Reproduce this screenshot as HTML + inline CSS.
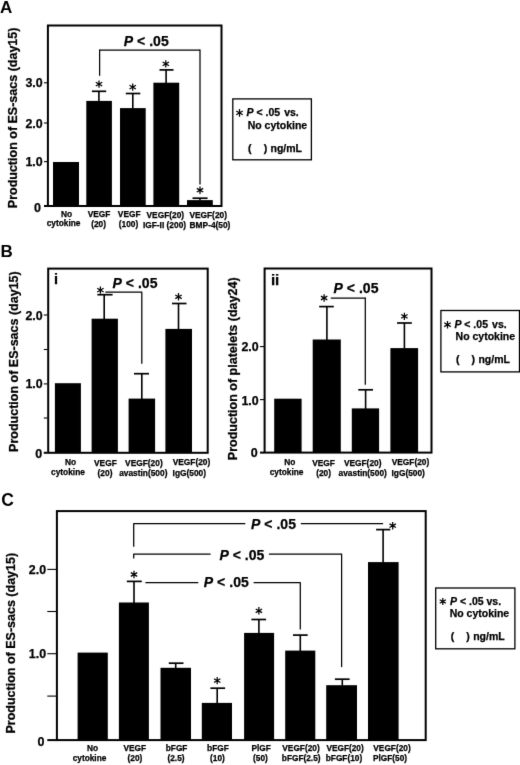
<!DOCTYPE html>
<html><head><meta charset="utf-8"><title>Figure</title>
<style>
html,body{margin:0;padding:0;background:#fff;}
body{width:520px;height:765px;overflow:hidden;font-family:"Liberation Sans",sans-serif;}
svg{display:block;filter:grayscale(1);}
svg text{font-family:"Liberation Sans",sans-serif;fill:#000;stroke:#000;stroke-width:0.25px;}
</style></head><body>
<svg width="520" height="765" viewBox="0 0 520 765">
<defs><filter id="soft" color-interpolation-filters="sRGB" x="0" y="0" width="520" height="765" filterUnits="userSpaceOnUse"><feConvolveMatrix order="3" kernelMatrix="0.00694 0.06944 0.00694 0.06944 0.69444 0.06944 0.00694 0.06944 0.00694" edgeMode="duplicate" preserveAlpha="true"/></filter></defs>
<rect x="0" y="0" width="520" height="765" fill="#fff"/>
<g filter="url(#soft)">
<rect x="0" y="0" width="520" height="765" fill="#fff"/>
<text x="0.0" y="12.5" font-size="17" text-anchor="start" font-weight="bold" style="stroke-width:0">A</text>
<rect x="47.9" y="25.5" width="173.6" height="180.5" fill="none" stroke="#000" stroke-width="2.0"/>
<text transform="translate(16.6,117.9) rotate(-90)" font-size="12.5" text-anchor="middle" font-weight="bold">Production of ES-sacs (day15)</text>
<text x="42.7" y="87.3" font-size="12.4" text-anchor="end" font-weight="bold" >3.0</text>
<line x1="44" y1="82.8" x2="47.5" y2="82.8" stroke="#000" stroke-width="1.1"/>
<text x="42.7" y="127.5" font-size="12.4" text-anchor="end" font-weight="bold" >2.0</text>
<line x1="44" y1="123" x2="47.5" y2="123" stroke="#000" stroke-width="1.1"/>
<text x="42.7" y="166.1" font-size="12.4" text-anchor="end" font-weight="bold" >1.0</text>
<line x1="44" y1="161.6" x2="47.5" y2="161.6" stroke="#000" stroke-width="1.1"/>
<line x1="44" y1="206" x2="47.5" y2="206" stroke="#000" stroke-width="2.0"/>
<text x="41.0" y="211.8" font-size="12.5" text-anchor="end" font-weight="bold" >0</text>
<rect x="53" y="162" width="26" height="44" fill="#000"/>
<rect x="86.3" y="100.9" width="25.6" height="105.1" fill="#000"/>
<rect x="120" y="108.1" width="25.7" height="97.9" fill="#000"/>
<rect x="153.4" y="82.7" width="25.8" height="123.3" fill="#000"/>
<rect x="187" y="200.1" width="25.8" height="5.9" fill="#000"/>
<line x1="98.9" y1="91.3" x2="98.9" y2="101.4" stroke="#000" stroke-width="1.6"/>
<line x1="91.9" y1="91.3" x2="106.2" y2="91.3" stroke="#000" stroke-width="1.7000000000000002"/>
<path d="M99.00 80.40L99.00 87.80M95.80 82.25L102.20 85.95M102.20 82.25L95.80 85.95" stroke="#000" stroke-width="1.25" fill="none"/>
<line x1="132.8" y1="93.5" x2="132.8" y2="108.6" stroke="#000" stroke-width="1.6"/>
<line x1="125.8" y1="93.5" x2="140.3" y2="93.5" stroke="#000" stroke-width="1.7000000000000002"/>
<path d="M132.70 83.40L132.70 90.80M129.50 85.25L135.90 88.95M135.90 85.25L129.50 88.95" stroke="#000" stroke-width="1.25" fill="none"/>
<line x1="166.1" y1="69.9" x2="166.1" y2="83.2" stroke="#000" stroke-width="1.6"/>
<line x1="159.5" y1="69.9" x2="173.5" y2="69.9" stroke="#000" stroke-width="1.7000000000000002"/>
<path d="M165.80 60.20L165.80 67.60M162.60 62.05L169.00 65.75M169.00 62.05L162.60 65.75" stroke="#000" stroke-width="1.25" fill="none"/>
<line x1="200" y1="198.2" x2="200" y2="200.6" stroke="#000" stroke-width="1.6"/>
<line x1="192.5" y1="198.2" x2="207.6" y2="198.2" stroke="#000" stroke-width="1.7000000000000002"/>
<path d="M200.00 186.50L200.00 193.90M196.80 188.35L203.20 192.05M203.20 188.35L196.80 192.05" stroke="#000" stroke-width="1.25" fill="none"/>
<line x1="99.6" y1="50.0" x2="200" y2="50.0" stroke="#000" stroke-width="1.25"/>
<line x1="99.6" y1="49.5" x2="99.6" y2="75.8" stroke="#000" stroke-width="1.25"/>
<line x1="200" y1="49.5" x2="200" y2="184.5" stroke="#000" stroke-width="1.25"/>
<text x="123.7" y="46.3" font-size="14" text-anchor="start" font-weight="bold" textLength="45.0" lengthAdjust="spacing"><tspan font-style="italic">P</tspan> &lt; .05</text>
<text x="66.6" y="216.5" font-size="8.35" text-anchor="middle" font-weight="bold" >No</text>
<text x="63.6" y="226.3" font-size="8.35" text-anchor="middle" font-weight="bold" >cytokine</text>
<text x="99" y="217.2" font-size="8.35" text-anchor="middle" font-weight="bold" >VEGF</text>
<text x="98.6" y="226.8" font-size="8.35" text-anchor="middle" font-weight="bold" >(20)</text>
<text x="129.2" y="217.2" font-size="8.35" text-anchor="middle" font-weight="bold" >VEGF</text>
<text x="128.5" y="226.8" font-size="8.35" text-anchor="middle" font-weight="bold" >(100)</text>
<text x="165.3" y="217.8" font-size="8.35" text-anchor="middle" font-weight="bold" >VEGF(20)</text>
<text x="164.5" y="227.6" font-size="8.35" text-anchor="middle" font-weight="bold" >IGF-II (200)</text>
<text x="208.2" y="218.2" font-size="8.35" text-anchor="middle" font-weight="bold" >VEGF(20)</text>
<text x="210" y="228" font-size="8.35" text-anchor="middle" font-weight="bold" >BMP-4(50)</text>
<rect x="232.8" y="98.9" width="78.6" height="60.9" fill="none" stroke="#000" stroke-width="1.3"/>
<path d="M239.50 109.10L239.50 116.70M236.21 111.00L242.79 114.80M242.79 111.00L236.21 114.80" stroke="#000" stroke-width="1.25" fill="none"/>
<text x="246.5" y="115.9" font-size="10.5" text-anchor="start" font-weight="bold" ><tspan font-style="italic">P</tspan> &lt; .05 <tspan dx="1.2">vs.</tspan></text>
<text x="247.7" y="128.7" font-size="10.5" text-anchor="start" font-weight="bold" >No cytokine</text>
<text x="248.0" y="151.7" font-size="10.5" text-anchor="start" font-weight="bold" >(&#160;&#160;&#160;&#160;<tspan dx="0.5">)</tspan><tspan dx="0.4"> ng/mL</tspan></text>
<text x="0.6" y="257.3" font-size="17" text-anchor="start" font-weight="bold" style="stroke-width:0">B</text>
<rect x="48.2" y="268.6" width="159.5" height="184.2" fill="none" stroke="#000" stroke-width="2.0"/>
<text x="53.9" y="283.6" font-size="14.5" text-anchor="start" font-weight="bold" >i</text>
<text transform="translate(17.6,361.6) rotate(-90)" font-size="12.5" text-anchor="middle" font-weight="bold">Production of ES-sacs (day15)</text>
<text x="42.7" y="319.5" font-size="12.4" text-anchor="end" font-weight="bold" >2.0</text>
<line x1="43.8" y1="315" x2="47.5" y2="315" stroke="#000" stroke-width="1.1"/>
<text x="42.7" y="388.4" font-size="12.4" text-anchor="end" font-weight="bold" >1.0</text>
<line x1="43.8" y1="383.9" x2="47.5" y2="383.9" stroke="#000" stroke-width="1.1"/>
<line x1="43.8" y1="349.5" x2="47.5" y2="349.5" stroke="#000" stroke-width="1.1"/>
<line x1="43.8" y1="418" x2="47.5" y2="418" stroke="#000" stroke-width="1.1"/>
<line x1="43.8" y1="452.8" x2="47.5" y2="452.8" stroke="#000" stroke-width="2.0"/>
<text x="42.3" y="458.3" font-size="12.5" text-anchor="end" font-weight="bold" >0</text>
<rect x="54.9" y="383.2" width="26.0" height="69.6" fill="#000"/>
<rect x="91.6" y="318.7" width="26.3" height="134.1" fill="#000"/>
<rect x="128.6" y="398.6" width="26.5" height="54.2" fill="#000"/>
<rect x="165.4" y="328.9" width="26.6" height="123.9" fill="#000"/>
<line x1="104.2" y1="294.7" x2="104.2" y2="319.2" stroke="#000" stroke-width="1.6"/>
<line x1="97.4" y1="294.7" x2="112.6" y2="294.7" stroke="#000" stroke-width="1.7000000000000002"/>
<path d="M100.40 286.40L100.40 293.80M97.20 288.25L103.60 291.95M103.60 288.25L97.20 291.95" stroke="#000" stroke-width="1.25" fill="none"/>
<line x1="141.8" y1="373.7" x2="141.8" y2="399.1" stroke="#000" stroke-width="1.6"/>
<line x1="134" y1="373.7" x2="149" y2="373.7" stroke="#000" stroke-width="1.7000000000000002"/>
<line x1="178.5" y1="303.5" x2="178.5" y2="329.4" stroke="#000" stroke-width="1.6"/>
<line x1="172" y1="303.5" x2="186.5" y2="303.5" stroke="#000" stroke-width="1.7000000000000002"/>
<path d="M178.50 293.10L178.50 300.50M175.30 294.95L181.70 298.65M181.70 294.95L175.30 298.65" stroke="#000" stroke-width="1.25" fill="none"/>
<line x1="105.4" y1="292.2" x2="141.8" y2="292.2" stroke="#000" stroke-width="1.25"/>
<line x1="141.8" y1="291.7" x2="141.8" y2="363.7" stroke="#000" stroke-width="1.25"/>
<text x="112.5" y="287.6" font-size="14" text-anchor="start" font-weight="bold" textLength="45.0" lengthAdjust="spacing"><tspan font-style="italic">P</tspan> &lt; .05</text>
<text x="70.5" y="465" font-size="8.35" text-anchor="middle" font-weight="bold" >No</text>
<text x="68" y="474.9" font-size="8.35" text-anchor="middle" font-weight="bold" >cytokine</text>
<text x="105.4" y="465.8" font-size="8.35" text-anchor="middle" font-weight="bold" >VEGF</text>
<text x="105" y="475.5" font-size="8.35" text-anchor="middle" font-weight="bold" >(20)</text>
<text x="143.9" y="465.9" font-size="8.35" text-anchor="middle" font-weight="bold" >VEGF(20)</text>
<text x="143.3" y="475.5" font-size="8.35" text-anchor="middle" font-weight="bold" >avastin(500)</text>
<text x="191.5" y="465" font-size="8.35" text-anchor="middle" font-weight="bold" >VEGF(20)</text>
<text x="189.3" y="475.5" font-size="8.35" text-anchor="middle" font-weight="bold" >IgG(500)</text>
<rect x="264.6" y="268.5" width="166.9" height="184.1" fill="none" stroke="#000" stroke-width="2.0"/>
<text x="270.9" y="285.4" font-size="15" text-anchor="start" font-weight="bold" >ii</text>
<text transform="translate(236.5,368.8) rotate(-90)" font-size="12.5" text-anchor="middle" font-weight="bold">Production of platelets (day24)</text>
<text x="258.7" y="351.2" font-size="12.4" text-anchor="end" font-weight="bold" >2.0</text>
<line x1="260" y1="346.6" x2="264" y2="346.6" stroke="#000" stroke-width="1.1"/>
<text x="258.7" y="405.1" font-size="12.4" text-anchor="end" font-weight="bold" >1.0</text>
<line x1="260" y1="399.6" x2="264" y2="399.6" stroke="#000" stroke-width="1.1"/>
<line x1="260" y1="452.6" x2="264" y2="452.6" stroke="#000" stroke-width="2.0"/>
<text x="257.8" y="457.3" font-size="12.5" text-anchor="end" font-weight="bold" >0</text>
<rect x="274.2" y="398.7" width="27.4" height="53.9" fill="#000"/>
<rect x="312.7" y="339.5" width="28.1" height="113.1" fill="#000"/>
<rect x="351.8" y="408.4" width="27.3" height="44.2" fill="#000"/>
<rect x="390.4" y="348.1" width="27.7" height="104.5" fill="#000"/>
<line x1="326.9" y1="306.6" x2="326.9" y2="340.0" stroke="#000" stroke-width="1.6"/>
<line x1="319.2" y1="306.6" x2="333.8" y2="306.6" stroke="#000" stroke-width="1.7000000000000002"/>
<path d="M324.10 294.30L324.10 301.70M320.90 296.15L327.30 299.85M327.30 296.15L320.90 299.85" stroke="#000" stroke-width="1.25" fill="none"/>
<line x1="365.6" y1="389.8" x2="365.6" y2="408.9" stroke="#000" stroke-width="1.6"/>
<line x1="358.3" y1="389.8" x2="373" y2="389.8" stroke="#000" stroke-width="1.7000000000000002"/>
<line x1="404.4" y1="323" x2="404.4" y2="348.6" stroke="#000" stroke-width="1.6"/>
<line x1="397.1" y1="323" x2="411.8" y2="323" stroke="#000" stroke-width="1.7000000000000002"/>
<path d="M404.40 312.70L404.40 320.10M401.20 314.55L407.60 318.25M407.60 314.55L401.20 318.25" stroke="#000" stroke-width="1.25" fill="none"/>
<line x1="330.8" y1="298" x2="365.3" y2="298" stroke="#000" stroke-width="1.25"/>
<line x1="365.3" y1="297.5" x2="365.3" y2="384.7" stroke="#000" stroke-width="1.25"/>
<text x="333.5" y="293.1" font-size="14" text-anchor="start" font-weight="bold" textLength="45.0" lengthAdjust="spacing"><tspan font-style="italic">P</tspan> &lt; .05</text>
<text x="289.8" y="464.8" font-size="8.35" text-anchor="middle" font-weight="bold" >No</text>
<text x="286.6" y="474.8" font-size="8.35" text-anchor="middle" font-weight="bold" >cytokine</text>
<text x="323.6" y="466" font-size="8.35" text-anchor="middle" font-weight="bold" >VEGF</text>
<text x="323.6" y="475.5" font-size="8.35" text-anchor="middle" font-weight="bold" >(20)</text>
<text x="362.7" y="465.8" font-size="8.35" text-anchor="middle" font-weight="bold" >VEGF(20)</text>
<text x="362.7" y="475.5" font-size="8.35" text-anchor="middle" font-weight="bold" >avastin(500)</text>
<text x="410.5" y="464.8" font-size="8.35" text-anchor="middle" font-weight="bold" >VEGF(20)</text>
<text x="408.2" y="475.8" font-size="8.35" text-anchor="middle" font-weight="bold" >IgG(500)</text>
<rect x="440.9" y="310.5" width="78.6" height="61.4" fill="none" stroke="#000" stroke-width="1.3"/>
<path d="M447.50 320.90L447.50 328.50M444.21 322.80L450.79 326.60M450.79 322.80L444.21 326.60" stroke="#000" stroke-width="1.25" fill="none"/>
<text x="454.4" y="327.6" font-size="10.5" text-anchor="start" font-weight="bold" ><tspan font-style="italic">P</tspan> &lt; .05 <tspan dx="1.2">vs.</tspan></text>
<text x="455.59999999999997" y="340.4" font-size="10.5" text-anchor="start" font-weight="bold" >No cytokine</text>
<text x="455.9" y="363" font-size="10.5" text-anchor="start" font-weight="bold" >(&#160;&#160;&#160;&#160;<tspan dx="0.5">)</tspan><tspan dx="0.4"> ng/mL</tspan></text>
<text x="1.2" y="506.3" font-size="17.5" text-anchor="start" font-weight="bold" style="stroke-width:0">C</text>
<rect x="56.9" y="511.1" width="368.8" height="229.0" fill="none" stroke="#000" stroke-width="2.0"/>
<text transform="translate(15.1,643.2) rotate(-90)" font-size="12.5" text-anchor="middle" font-weight="bold">Production of ES-sacs (day15)</text>
<text x="46.1" y="573.9" font-size="12.4" text-anchor="end" font-weight="bold" >2.0</text>
<line x1="47.3" y1="569.4" x2="56.5" y2="569.4" stroke="#000" stroke-width="1.1"/>
<text x="46.1" y="658.2" font-size="12.4" text-anchor="end" font-weight="bold" >1.0</text>
<line x1="47.3" y1="653.7" x2="56.5" y2="653.7" stroke="#000" stroke-width="1.1"/>
<line x1="47.3" y1="611.5" x2="56.5" y2="611.5" stroke="#000" stroke-width="1.1"/>
<line x1="47.3" y1="696.1" x2="56.5" y2="696.1" stroke="#000" stroke-width="1.1"/>
<line x1="47.3" y1="740.1" x2="56.5" y2="740.1" stroke="#000" stroke-width="2.0"/>
<text x="44.5" y="745.5" font-size="12.5" text-anchor="end" font-weight="bold" >0</text>
<rect x="77.6" y="652.6" width="30.2" height="87.5" fill="#000"/>
<rect x="118.9" y="602.5" width="30.0" height="137.6" fill="#000"/>
<rect x="160.5" y="667.8" width="30.5" height="72.3" fill="#000"/>
<rect x="201.8" y="702.9" width="30.2" height="37.2" fill="#000"/>
<rect x="244.1" y="632.9" width="30.0" height="107.2" fill="#000"/>
<rect x="285.2" y="650.6" width="30.1" height="89.5" fill="#000"/>
<rect x="326.2" y="685.2" width="30.8" height="54.9" fill="#000"/>
<rect x="368" y="562.1" width="30.6" height="178.0" fill="#000"/>
<line x1="134" y1="581.4" x2="134" y2="603.0" stroke="#000" stroke-width="1.6"/>
<line x1="126.8" y1="581.4" x2="141.8" y2="581.4" stroke="#000" stroke-width="1.7000000000000002"/>
<path d="M134.00 570.80L134.00 578.20M130.80 572.65L137.20 576.35M137.20 572.65L130.80 576.35" stroke="#000" stroke-width="1.25" fill="none"/>
<line x1="175.7" y1="663.2" x2="175.7" y2="668.3" stroke="#000" stroke-width="1.6"/>
<line x1="168.8" y1="663.2" x2="183.5" y2="663.2" stroke="#000" stroke-width="1.7000000000000002"/>
<line x1="217.2" y1="688.2" x2="217.2" y2="703.4" stroke="#000" stroke-width="1.6"/>
<line x1="210.4" y1="688.2" x2="225.1" y2="688.2" stroke="#000" stroke-width="1.7000000000000002"/>
<path d="M217.20 676.90L217.20 684.30M214.00 678.75L220.40 682.45M220.40 678.75L214.00 682.45" stroke="#000" stroke-width="1.25" fill="none"/>
<line x1="258.9" y1="619.5" x2="258.9" y2="633.4" stroke="#000" stroke-width="1.6"/>
<line x1="251.4" y1="619.5" x2="266.1" y2="619.5" stroke="#000" stroke-width="1.7000000000000002"/>
<path d="M258.90 607.10L258.90 614.50M255.70 608.95L262.10 612.65M262.10 608.95L255.70 612.65" stroke="#000" stroke-width="1.25" fill="none"/>
<line x1="300.3" y1="635.1" x2="300.3" y2="651.1" stroke="#000" stroke-width="1.6"/>
<line x1="293" y1="635.1" x2="307.7" y2="635.1" stroke="#000" stroke-width="1.7000000000000002"/>
<line x1="342.3" y1="679.2" x2="342.3" y2="685.7" stroke="#000" stroke-width="1.6"/>
<line x1="334.9" y1="679.2" x2="349.6" y2="679.2" stroke="#000" stroke-width="1.7000000000000002"/>
<line x1="383.1" y1="529.6" x2="383.1" y2="562.6" stroke="#000" stroke-width="1.6"/>
<line x1="376.1" y1="529.6" x2="390.3" y2="529.6" stroke="#000" stroke-width="1.7000000000000002"/>
<path d="M392.70 522.00L392.70 529.40M389.50 523.85L395.90 527.55M395.90 523.85L389.50 527.55" stroke="#000" stroke-width="1.25" fill="none"/>
<line x1="133.7" y1="523.7" x2="245.3" y2="523.7" stroke="#000" stroke-width="1.25"/>
<line x1="133.7" y1="523.2" x2="133.7" y2="546.8" stroke="#000" stroke-width="1.25"/>
<line x1="300.8" y1="523.7" x2="383.1" y2="523.7" stroke="#000" stroke-width="1.25"/>
<text x="251" y="529.0" font-size="14" text-anchor="start" font-weight="bold" textLength="45.0" lengthAdjust="spacing"><tspan font-style="italic">P</tspan> &lt; .05</text>
<line x1="133.7" y1="554.2" x2="210.6" y2="554.2" stroke="#000" stroke-width="1.25"/>
<line x1="133.7" y1="553.7" x2="133.7" y2="558.4" stroke="#000" stroke-width="1.25"/>
<line x1="268.9" y1="554.2" x2="341.6" y2="554.2" stroke="#000" stroke-width="1.25"/>
<line x1="341.6" y1="553.7" x2="341.6" y2="667.1" stroke="#000" stroke-width="1.25"/>
<text x="219.4" y="559.5999999999999" font-size="14" text-anchor="start" font-weight="bold" textLength="45.0" lengthAdjust="spacing"><tspan font-style="italic">P</tspan> &lt; .05</text>
<line x1="145.4" y1="582.7" x2="198.3" y2="582.7" stroke="#000" stroke-width="1.25"/>
<line x1="253.6" y1="582.7" x2="300.3" y2="582.7" stroke="#000" stroke-width="1.25"/>
<line x1="300.3" y1="582.2" x2="300.3" y2="629.4" stroke="#000" stroke-width="1.25"/>
<text x="203.8" y="587.3" font-size="14" text-anchor="start" font-weight="bold" textLength="45.0" lengthAdjust="spacing"><tspan font-style="italic">P</tspan> &lt; .05</text>
<text x="92.5" y="751.2" font-size="8.3" text-anchor="middle" font-weight="bold" >No</text>
<text x="89.5" y="760.8" font-size="8.3" text-anchor="middle" font-weight="bold" >cytokine</text>
<text x="134.8" y="751.2" font-size="8.3" text-anchor="middle" font-weight="bold" >VEGF</text>
<text x="135" y="760.8" font-size="8.3" text-anchor="middle" font-weight="bold" >(20)</text>
<text x="176.6" y="751.2" font-size="8.3" text-anchor="middle" font-weight="bold" >bFGF</text>
<text x="176" y="760.8" font-size="8.3" text-anchor="middle" font-weight="bold" >(2.5)</text>
<text x="217.9" y="751.2" font-size="8.3" text-anchor="middle" font-weight="bold" >bFGF</text>
<text x="217.5" y="760.8" font-size="8.3" text-anchor="middle" font-weight="bold" >(10)</text>
<text x="261.2" y="751.2" font-size="8.3" text-anchor="middle" font-weight="bold" >PlGF</text>
<text x="260.5" y="760.8" font-size="8.3" text-anchor="middle" font-weight="bold" >(50)</text>
<text x="301" y="751.2" font-size="8.3" text-anchor="middle" font-weight="bold" >VEGF(20)</text>
<text x="301.2" y="760.8" font-size="8.3" text-anchor="middle" font-weight="bold" >bFGF(2.5)</text>
<text x="345.1" y="751.2" font-size="8.3" text-anchor="middle" font-weight="bold" >VEGF(20)</text>
<text x="344" y="760.8" font-size="8.3" text-anchor="middle" font-weight="bold" >bFGF(10)</text>
<text x="392" y="751.2" font-size="8.3" text-anchor="middle" font-weight="bold" >VEGF(20)</text>
<text x="390" y="760.8" font-size="8.3" text-anchor="middle" font-weight="bold" >PlGF(50)</text>
<rect x="435.7" y="588" width="79.2" height="60.8" fill="none" stroke="#000" stroke-width="1.3"/>
<path d="M442.80 597.90L442.80 605.10M439.68 599.70L445.92 603.30M445.92 599.70L439.68 603.30" stroke="#000" stroke-width="1.25" fill="none"/>
<text x="450" y="604.8" font-size="10.5" text-anchor="start" font-weight="bold" ><tspan font-style="italic">P</tspan> &lt; .05 <tspan dx="0">vs.</tspan></text>
<text x="449.7" y="617.4" font-size="10.5" text-anchor="start" font-weight="bold" >No cytokine</text>
<text x="450.7" y="640.4" font-size="10.5" text-anchor="start" font-weight="bold" >(&#160;&#160;&#160;&#160;<tspan dx="0.5">)</tspan><tspan dx="0.4"> ng/mL</tspan></text>
</g>
</svg>
</body></html>
